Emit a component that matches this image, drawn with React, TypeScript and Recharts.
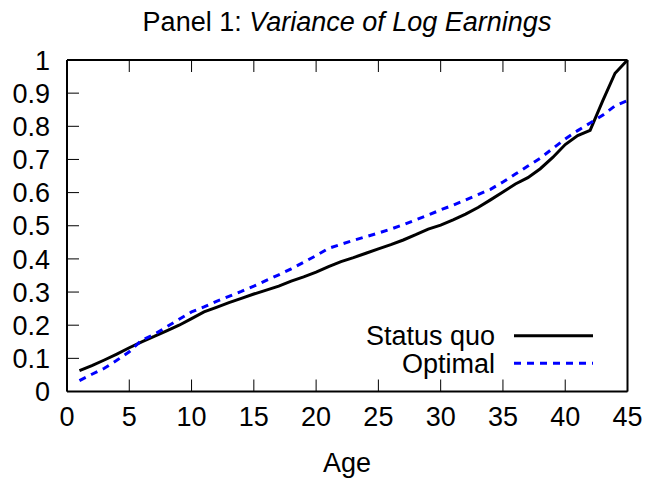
import React from 'react';
import { LineChart, Line, XAxis, YAxis, Legend } from 'recharts';

const ages = [
  1, 2, 3, 4, 5, 6, 7, 8, 9, 10, 11, 12, 13, 14, 15, 16, 17, 18, 19, 20, 21, 22, 23,
  24, 25, 26, 27, 28, 29, 30, 31, 32, 33, 34, 35, 36, 37, 38, 39, 40, 41, 42, 43, 44, 45,
];
const statusQuo = [
  0.063, 0.078, 0.095, 0.113, 0.132, 0.15, 0.166, 0.183, 0.2, 0.22, 0.24, 0.254, 0.268,
  0.281, 0.294, 0.306, 0.318, 0.333, 0.346, 0.36, 0.377, 0.392, 0.404, 0.417, 0.43, 0.443,
  0.457, 0.473, 0.49, 0.502, 0.518, 0.535, 0.555, 0.578, 0.602, 0.626, 0.645, 0.672, 0.706,
  0.745, 0.772, 0.788, 0.876, 0.96, 1.0,
];
const optimal = [
  0.033, 0.052, 0.07, 0.094, 0.12, 0.155, 0.172, 0.195, 0.218, 0.24, 0.255, 0.272, 0.287,
  0.302, 0.318, 0.335, 0.352, 0.37, 0.39, 0.41, 0.432, 0.444, 0.456, 0.467, 0.478, 0.49,
  0.503, 0.518, 0.532, 0.548, 0.562, 0.578, 0.594, 0.61, 0.632, 0.656, 0.68, 0.704, 0.733,
  0.762, 0.787, 0.81, 0.833, 0.862, 0.878,
];
const xTicks = [0, 5, 10, 15, 20, 25, 30, 35, 40, 45];
const yTicks = [0, 0.1, 0.2, 0.3, 0.4, 0.5, 0.6, 0.7, 0.8, 0.9, 1];
const seriesNames = ['Status quo', 'Optimal'];
const titlePlain = 'Panel 1: ';
const titleItalic = 'Variance of Log Earnings';
const xLabel = 'Age';

const data = ages.map((a, i) => ({ age: a, statusQuo: statusQuo[i], optimal: optimal[i] }));

const FONT = '"Liberation Sans", Arial, Helvetica, sans-serif';
const FS = 27;
const TICK = 12;

const fmtY = (v: number) => String(Math.round(v * 10) / 10);

const BottomTick = (p: any) => (
  <g>
    <line x1={p.x} y1={p.y} x2={p.x} y2={p.y - TICK} stroke="#000" strokeWidth={1} />
    <text x={p.x} y={p.y + 34} textAnchor="middle" fontFamily={FONT} fontSize={FS} fill="#000">
      {p.payload.value}
    </text>
  </g>
);
const TopTick = (p: any) => (
  <line x1={p.x} y1={p.y} x2={p.x} y2={p.y + TICK} stroke="#000" strokeWidth={1} />
);
const LeftTick = (p: any) => (
  <g>
    <line x1={p.x} y1={p.y} x2={p.x + TICK} y2={p.y} stroke="#000" strokeWidth={1} />
    <text x={p.x - 17} y={p.y + 9.7} textAnchor="end" fontFamily={FONT} fontSize={FS} fill="#000">
      {fmtY(p.payload.value)}
    </text>
  </g>
);
const RightTick = (p: any) => (
  <line x1={p.x} y1={p.y} x2={p.x - TICK} y2={p.y} stroke="#000" strokeWidth={1} />
);

const LegendBox = () => (
  <svg width={300} height={70} style={{ display: 'block', overflow: 'visible' }}>
    <text x={155} y={25.4} textAnchor="end" fontFamily={FONT} fontSize={FS} fill="#000">
      {seriesNames[0]}
    </text>
    <line x1={174} y1={15.7} x2={253} y2={15.7} stroke="#000" strokeWidth={3} />
    <text x={155} y={53} textAnchor="end" fontFamily={FONT} fontSize={FS} fill="#000">
      {seriesNames[1]}
    </text>
    <line x1={174} y1={43.3} x2={253} y2={43.3} stroke="#0000ff" strokeWidth={3} strokeDasharray="7 6" />
  </svg>
);

export default function App() {
  return (
    <div style={{ position: 'absolute', left: 0, top: 0, width: 649, height: 481, background: '#fff' }}>
      <div
        style={{
          position: 'absolute',
          left: 0,
          width: 694,
          top: 7,
          textAlign: 'center',
          fontFamily: FONT,
          fontSize: FS,
          lineHeight: '30px',
          color: '#000',
          whiteSpace: 'nowrap',
        }}
      >
        {titlePlain}
        <i>{titleItalic}</i>
      </div>
      <div
        style={{
          position: 'absolute',
          left: 0,
          width: 694,
          top: 448,
          textAlign: 'center',
          fontFamily: FONT,
          fontSize: FS,
          lineHeight: '30px',
          color: '#000',
        }}
      >
        {xLabel}
      </div>
      <div style={{ position: 'absolute', left: 0, top: 0 }}>
        <LineChart
          width={649}
          height={481}
          data={data}
          margin={{ top: 59, right: 20.5, bottom: 59.5, left: 7 }}
        >
          <XAxis
            xAxisId="b"
            dataKey="age"
            type="number"
            domain={[0, 45]}
            ticks={xTicks}
            orientation="bottom"
            height={30}
            tickSize={0}
            tickMargin={0}
            tickLine={false}
            axisLine={{ stroke: '#000', strokeWidth: 2 }}
            stroke="#000"
            tick={<BottomTick />}
            interval={0}
          />
          <XAxis
            xAxisId="t"
            dataKey="age"
            type="number"
            domain={[0, 45]}
            ticks={xTicks}
            orientation="top"
            height={1}
            tickSize={0}
            tickMargin={0}
            tickLine={false}
            axisLine={{ stroke: '#000', strokeWidth: 2 }}
            stroke="#000"
            tick={<TopTick />}
            interval={0}
          />
          <YAxis
            yAxisId="l"
            type="number"
            domain={[0, 1]}
            ticks={yTicks}
            orientation="left"
            width={60}
            tickSize={0}
            tickMargin={0}
            tickLine={false}
            axisLine={{ stroke: '#000', strokeWidth: 2 }}
            stroke="#000"
            tick={<LeftTick />}
            interval={0}
          />
          <YAxis
            yAxisId="r"
            type="number"
            domain={[0, 1]}
            ticks={yTicks}
            orientation="right"
            width={1}
            tickSize={0}
            tickMargin={0}
            tickLine={false}
            axisLine={{ stroke: '#000', strokeWidth: 2 }}
            stroke="#000"
            tick={<RightTick />}
            interval={0}
          />
          <Line
            xAxisId="b"
            yAxisId="l"
            type="linear"
            dataKey="statusQuo"
            stroke="#000"
            strokeWidth={3}
            dot={false}
            activeDot={false}
            isAnimationActive={false}
          />
          <Line
            xAxisId="b"
            yAxisId="l"
            type="linear"
            dataKey="optimal"
            stroke="#0000ff"
            strokeWidth={3}
            strokeDasharray="7 6"
            dot={false}
            activeDot={false}
            isAnimationActive={false}
          />
          <Legend
            layout="horizontal"
            verticalAlign="middle"
            align="center"
            content={<LegendBox />}
            wrapperStyle={{ position: 'absolute', left: 340, top: 320, width: 300, height: 70 }}
          />
        </LineChart>
      </div>
    </div>
  );
}
